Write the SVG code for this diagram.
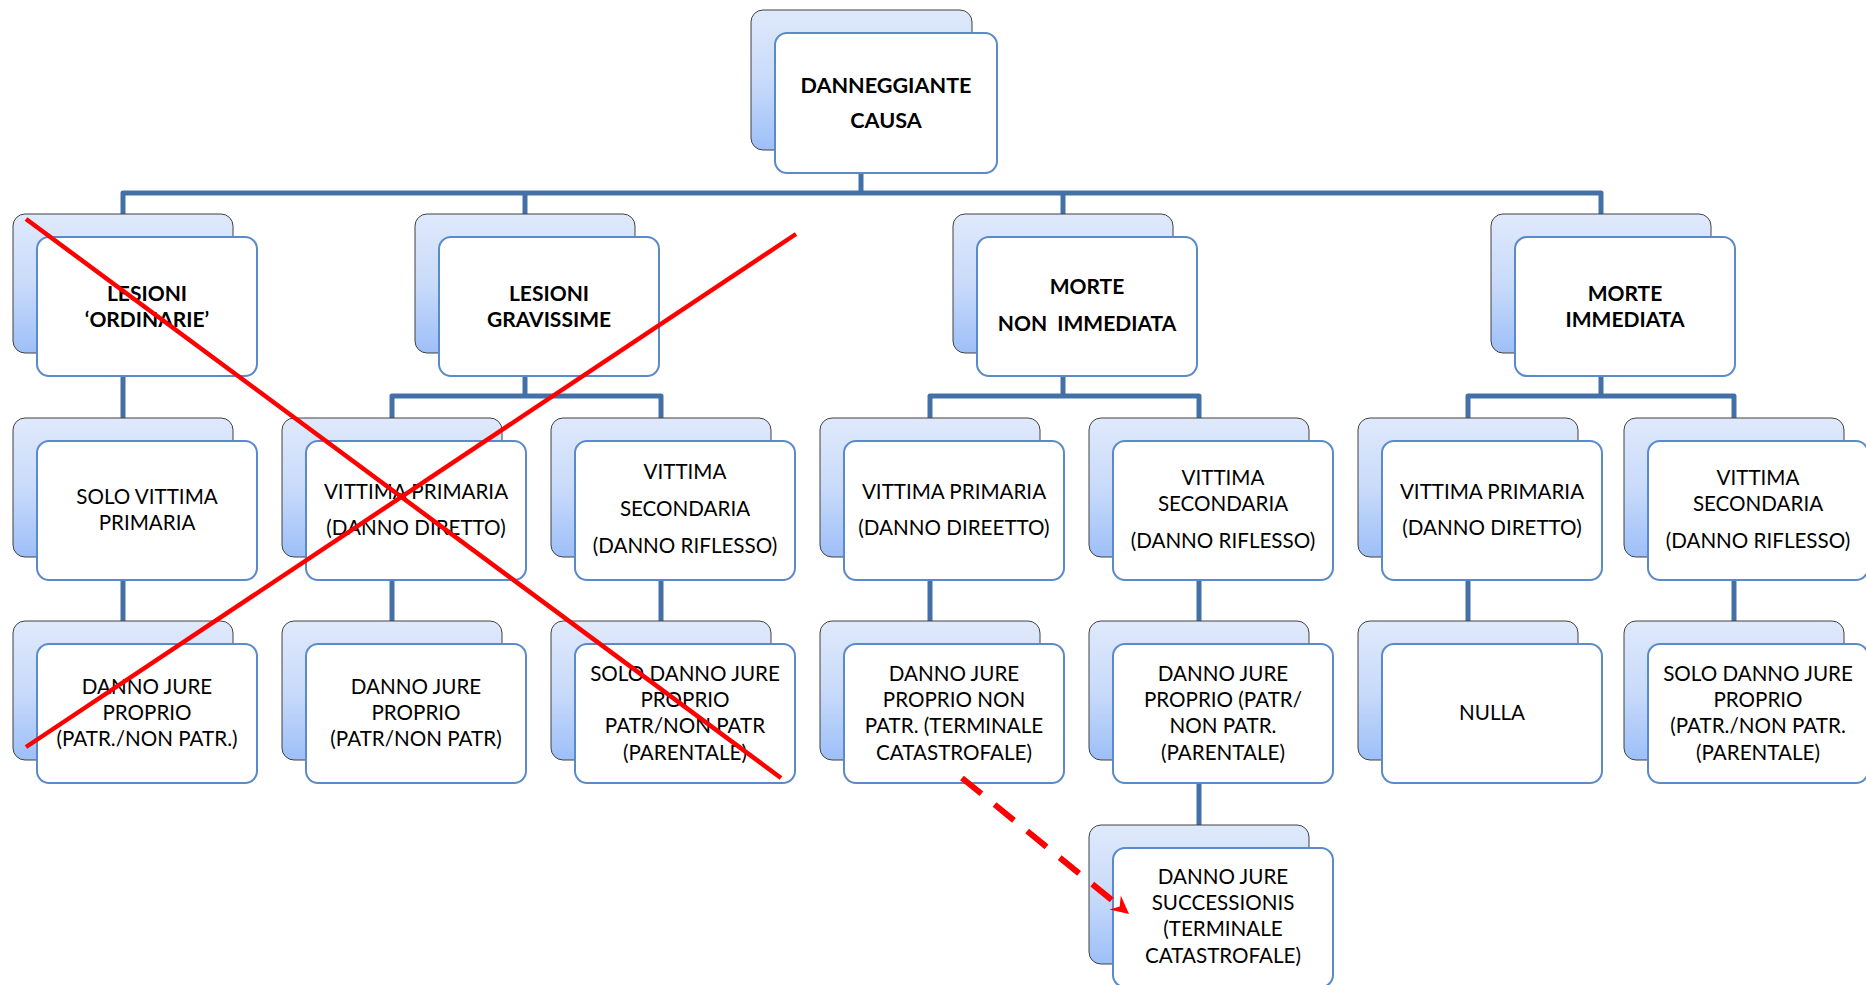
<svg xmlns="http://www.w3.org/2000/svg" width="1866" height="985" viewBox="0 0 1866 985">
<defs>
<linearGradient id="bg" x1="0" y1="0" x2="0" y2="1">
<stop offset="0" stop-color="#dfe9fb"/>
<stop offset="0.5" stop-color="#c9dbfa"/>
<stop offset="1" stop-color="#9dbff8"/>
</linearGradient>
<style>
.back{fill:url(#bg);stroke:#404040;stroke-width:1}
.front{fill:#ffffff;stroke:#5b8acb;stroke-width:2}
.conn{fill:none;stroke:#4470a8;stroke-width:5;stroke-linejoin:round}
text{font-family:Lato,"Liberation Sans",sans-serif;font-size:20.6px;fill:#000;text-anchor:middle;white-space:pre}
.b{font-weight:bold;font-size:21px}
.red{stroke:#ff0000;stroke-width:4.5;fill:none}
</style>
</defs>
<g id="connectors">
<path class="conn" d="M861,173 V193 M123,214 V193 H1601 V214 M525,193 V214 M1063,193 V214"/>
<path class="conn" d="M123,376 V418 M525,376 V396 M392,418 V396 H661 V418 M1063,376 V396 M930,418 V396 H1199 V418 M1601,376 V396 M1468,418 V396 H1734 V418"/>
<path class="conn" d="M123,580 V621 M392,580 V621 M661,580 V621 M930,580 V621 M1199,580 V621 M1468,580 V621 M1734,580 V621"/>
<path class="conn" d="M1199,783 V825"/>
</g>
<g id="n-root"><rect class="back" x="751" y="10" width="221" height="140" rx="12"/><rect class="front" x="775" y="33" width="222" height="140" rx="12"/><text class="b" x="886" y="93" style="font-size:21.6px">DANNEGGIANTE</text><text class="b" x="886" y="128" style="font-size:21.6px">CAUSA</text></g>
<g id="n-lesord"><rect class="back" x="13" y="214" width="220" height="139" rx="12"/><rect class="front" x="37" y="237" width="220" height="139" rx="12"/><text class="b" x="147" y="301">LESIONI</text><text class="b" x="147" y="327">‘ORDINARIE’</text></g>
<g id="n-lesgrav"><rect class="back" x="415" y="214" width="220" height="139" rx="12"/><rect class="front" x="439" y="237" width="220" height="139" rx="12"/><text class="b" x="549" y="301">LESIONI</text><text class="b" x="549" y="327">GRAVISSIME</text></g>
<g id="n-mortenon"><rect class="back" x="953" y="214" width="220" height="139" rx="12"/><rect class="front" x="977" y="237" width="220" height="139" rx="12"/><text class="b" x="1087" y="294">MORTE</text><text class="b" x="1087" y="331">NON  IMMEDIATA</text></g>
<g id="n-morteimm"><rect class="back" x="1491" y="214" width="220" height="139" rx="12"/><rect class="front" x="1515" y="237" width="220" height="139" rx="12"/><text class="b" x="1625" y="301">MORTE</text><text class="b" x="1625" y="327">IMMEDIATA</text></g>
<g id="n-solovitt"><rect class="back" x="13" y="418" width="220" height="139" rx="12"/><rect class="front" x="37" y="441" width="220" height="139" rx="12"/><text x="147" y="504">SOLO VITTIMA</text><text x="147" y="530">PRIMARIA</text></g>
<g id="n-lg-prim"><rect class="back" x="282" y="418" width="220" height="139" rx="12"/><rect class="front" x="306" y="441" width="220" height="139" rx="12"/><text x="416" y="499">VITTIMA PRIMARIA</text><text x="416" y="535">(DANNO DIRETTO)</text></g>
<g id="n-lg-sec"><rect class="back" x="551" y="418" width="220" height="139" rx="12"/><rect class="front" x="575" y="441" width="220" height="139" rx="12"/><text x="685" y="479">VITTIMA</text><text x="685" y="516">SECONDARIA</text><text x="685" y="553">(DANNO RIFLESSO)</text></g>
<g id="n-mn-prim"><rect class="back" x="820" y="418" width="220" height="139" rx="12"/><rect class="front" x="844" y="441" width="220" height="139" rx="12"/><text x="954" y="499">VITTIMA PRIMARIA</text><text x="954" y="535">(DANNO DIREETTO)</text></g>
<g id="n-mn-sec"><rect class="back" x="1089" y="418" width="220" height="139" rx="12"/><rect class="front" x="1113" y="441" width="220" height="139" rx="12"/><text x="1223" y="485">VITTIMA</text><text x="1223" y="511">SECONDARIA</text><text x="1223" y="548">(DANNO RIFLESSO)</text></g>
<g id="n-mi-prim"><rect class="back" x="1358" y="418" width="220" height="139" rx="12"/><rect class="front" x="1382" y="441" width="220" height="139" rx="12"/><text x="1492" y="499">VITTIMA PRIMARIA</text><text x="1492" y="535">(DANNO DIRETTO)</text></g>
<g id="n-mi-sec"><rect class="back" x="1624" y="418" width="220" height="139" rx="12"/><rect class="front" x="1648" y="441" width="220" height="139" rx="12"/><text x="1758" y="485">VITTIMA</text><text x="1758" y="511">SECONDARIA</text><text x="1758" y="548">(DANNO RIFLESSO)</text></g>
<g id="n-lo-danno"><rect class="back" x="13" y="621" width="220" height="139" rx="12"/><rect class="front" x="37" y="644" width="220" height="139" rx="12"/><text x="147" y="694">DANNO JURE</text><text x="147" y="720">PROPRIO</text><text x="147" y="746">(PATR./NON PATR.)</text></g>
<g id="n-lg-danno"><rect class="back" x="282" y="621" width="220" height="139" rx="12"/><rect class="front" x="306" y="644" width="220" height="139" rx="12"/><text x="416" y="694">DANNO JURE</text><text x="416" y="720">PROPRIO</text><text x="416" y="746">(PATR/NON PATR)</text></g>
<g id="n-lg-solo"><rect class="back" x="551" y="621" width="220" height="139" rx="12"/><rect class="front" x="575" y="644" width="220" height="139" rx="12"/><text x="685" y="681">SOLO DANNO JURE</text><text x="685" y="707">PROPRIO</text><text x="685" y="733">PATR/NON PATR</text><text x="685" y="760">(PARENTALE)</text></g>
<g id="n-mn-term"><rect class="back" x="820" y="621" width="220" height="139" rx="12"/><rect class="front" x="844" y="644" width="220" height="139" rx="12"/><text x="954" y="681">DANNO JURE</text><text x="954" y="707">PROPRIO NON</text><text x="954" y="733">PATR. (TERMINALE</text><text x="954" y="760">CATASTROFALE)</text></g>
<g id="n-mn-par"><rect class="back" x="1089" y="621" width="220" height="139" rx="12"/><rect class="front" x="1113" y="644" width="220" height="139" rx="12"/><text x="1223" y="681">DANNO JURE</text><text x="1223" y="707">PROPRIO (PATR/</text><text x="1223" y="733">NON PATR.</text><text x="1223" y="760">(PARENTALE)</text></g>
<g id="n-mi-nulla"><rect class="back" x="1358" y="621" width="220" height="139" rx="12"/><rect class="front" x="1382" y="644" width="220" height="139" rx="12"/><text x="1492" y="720">NULLA</text></g>
<g id="n-mi-solo"><rect class="back" x="1624" y="621" width="220" height="139" rx="12"/><rect class="front" x="1648" y="644" width="220" height="139" rx="12"/><text x="1758" y="681">SOLO DANNO JURE</text><text x="1758" y="707">PROPRIO</text><text x="1758" y="733">(PATR./NON PATR.</text><text x="1758" y="760">(PARENTALE)</text></g>
<g id="n-mn-succ"><rect class="back" x="1089" y="825" width="220" height="139" rx="12"/><rect class="front" x="1113" y="848" width="220" height="139" rx="12"/><text x="1223" y="884">DANNO JURE</text><text x="1223" y="910">SUCCESSIONIS</text><text x="1223" y="936">(TERMINALE</text><text x="1223" y="963">CATASTROFALE)</text></g>
<g id="cross">
<line class="red" x1="26" y1="219" x2="781" y2="778"/>
<line class="red" x1="26" y1="747" x2="796" y2="234"/>
</g>
<g id="dashed-arrow">
<line x1="962" y1="778" x2="1118" y2="905" stroke="#ff0000" stroke-width="6" stroke-dasharray="25 17"/>
<polygon points="1129,914 1120.8,895.6 1119.7,906.4 1109.4,909.6" fill="#ff0000"/>
</g>
</svg>
